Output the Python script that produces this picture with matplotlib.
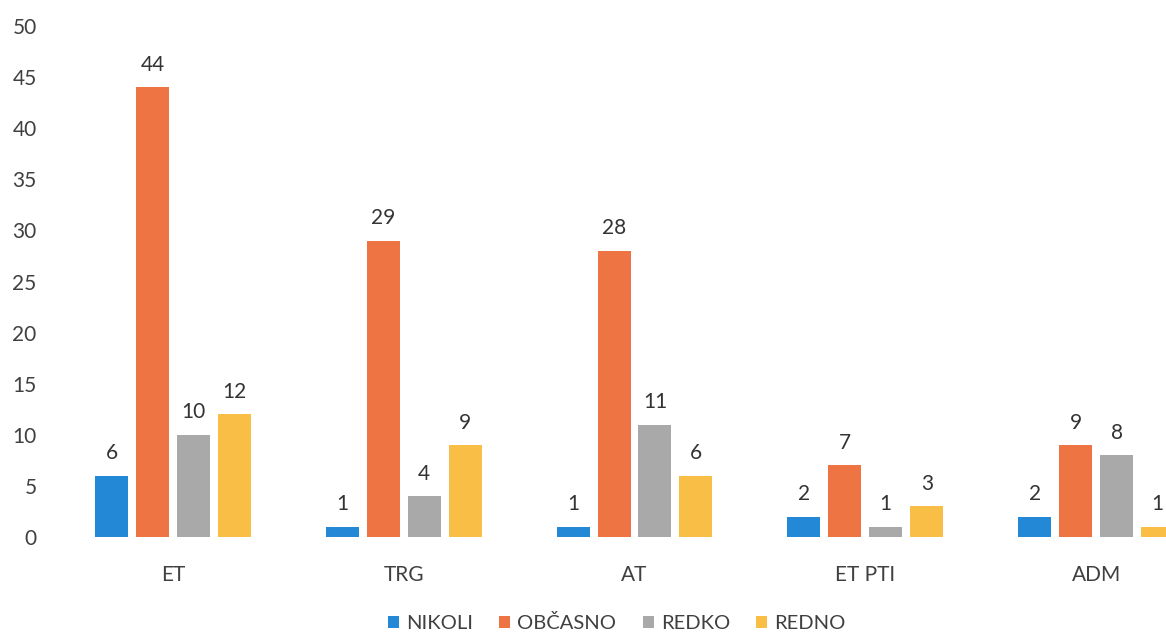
import matplotlib
matplotlib.use("Agg")
import matplotlib.pyplot as plt
import numpy as np

categories = ["ET", "TRG", "AT", "ET PTI", "ADM"]
series_names = ["NIKOLI", "OBČASNO", "REDKO", "REDNO"]
nikoli = [6, 1, 1, 2, 2]
obcasno = [44, 29, 28, 7, 9]
redko = [10, 4, 11, 1, 8]
redno = [12, 9, 6, 3, 1]
colors = ["#2389D6", "#EE7444", "#A9A9A9", "#F9BE45"]
yticks = [0, 5, 10, 15, 20, 25, 30, 35, 40, 45, 50]

plt.rcParams['font.family'] = ['Lato', 'DejaVu Sans']

W, H = 1166, 634
fig = plt.figure(figsize=(W / 100, H / 100), dpi=100)
x0, x1 = 57.5, 1211.5
ytop, ybot = 26, 537
ax = fig.add_axes([x0 / W, (H - ybot) / H, (x1 - x0) / W, (ybot - ytop) / H])

x = np.arange(len(categories))
step = 41 / 231
width = 33 / 231
data = [nikoli, obcasno, redko, redno]
for i, (vals, name, c) in enumerate(zip(data, series_names, colors)):
    pos = x + (i - 1.5) * step
    bars = ax.bar(pos, vals, width=width, color=c, label=name)
    for b, v in zip(bars, vals):
        ax.annotate(str(v), (b.get_x() + b.get_width() / 2, v),
                    xytext=(0, 9), textcoords="offset points",
                    ha="center", va="bottom", fontsize=15, color="#333333")

ax.set_xlim(-0.5, len(categories) - 0.5)
ax.set_ylim(0, 50)
ax.set_yticks(yticks)
ax.set_xticks(x)
ax.set_xticklabels(categories)
for s in ax.spines.values():
    s.set_visible(False)
ax.tick_params(axis="both", length=0, labelsize=15, colors="#404040")
ax.tick_params(axis="y", pad=15)
ax.tick_params(axis="x", pad=20)

fig.legend(loc="center", bbox_to_anchor=(0.529, 0.017), ncol=4, frameon=False,
           fontsize=14.5, handlelength=0.55, handleheight=0.55, handletextpad=0.35,
           columnspacing=1.3, labelcolor="#404040")

fig.savefig("out.png", dpi=100)
